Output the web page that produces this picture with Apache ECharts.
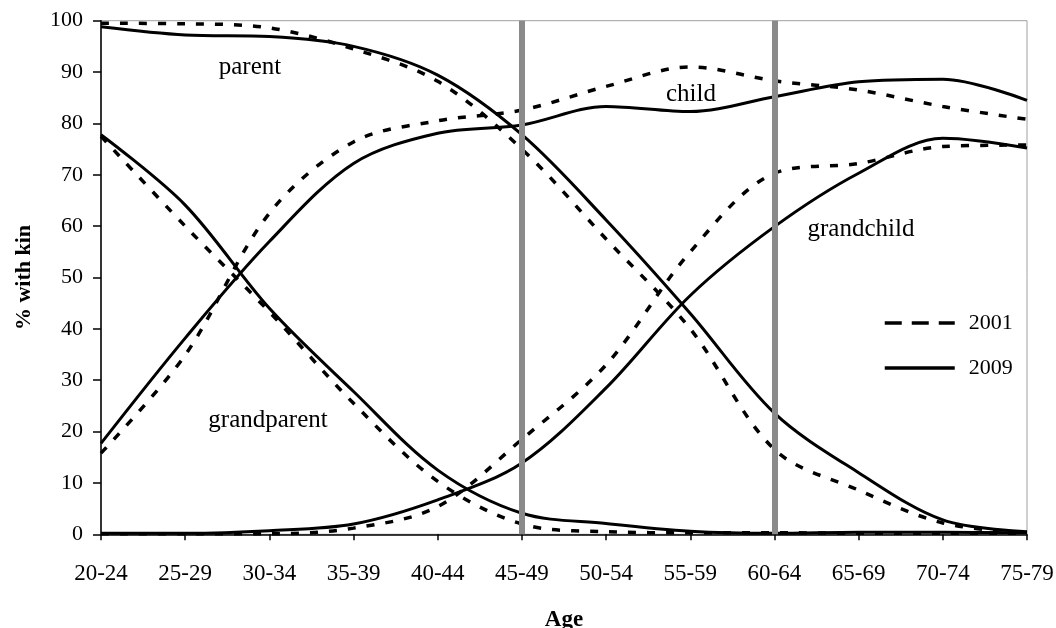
<!DOCTYPE html>
<html>
<head>
<meta charset="utf-8">
<script src="https://cdn.jsdelivr.net/npm/echarts@6/dist/echarts.min.js"></script>
<style>
html,body{margin:0;padding:0;background:#fff;}
#chart{width:1056px;height:628px;}
</style>
</head>
<body>
<div id="chart"></div>
<script>
const categories = ['20-24','25-29','30-34','35-39','40-44','45-49','50-54','55-59','60-64','65-69','70-74','75-79'];
const yTicks = [0,10,20,30,40,50,60,70,80,90,100];
const parent2001 = [99.5, 99.4, 98.6, 94.5, 88.2, 75.0, 57.5, 40.0, 16.5, 8.6, 2.2, 0.3];
const parent2009 = [98.8, 97.2, 96.9, 95.0, 89.4, 77.8, 61.2, 43.0, 23.6, 12.0, 2.8, 0.5];
const grandparent2001 = [77.5, 60.0, 43.3, 25.5, 10.3, 2.0, 0.5, 0.3, 0.3, 0.2, 0.2, 0.2];
const grandparent2009 = [77.8, 64.1, 44.0, 27.8, 12.5, 4.1, 2.1, 0.6, 0.2, 0.4, 0.4, 0.3];
const child2001 = [15.8, 34.9, 62.5, 76.4, 80.5, 82.6, 87.2, 91.0, 88.3, 86.5, 83.3, 80.8];
const child2009 = [17.7, 38.2, 57.0, 72.2, 78.1, 79.7, 83.3, 82.3, 85.2, 88.1, 88.6, 84.5];
const grandchild2001 = [0.1, 0.1, 0.1, 1.2, 5.4, 18.5, 33.0, 55.0, 70.3, 72.2, 75.5, 75.8];
const grandchild2009 = [0.2, 0.2, 0.7, 2.0, 6.7, 13.9, 28.5, 46.5, 59.9, 70.3, 77.1, 75.2];
const markedAges = ['45-49','60-64'];
const kinLabels = ['parent','child','grandchild','grandparent'];
const legendNames = ['2001','2009'];

const FONT = '"Liberation Serif","Times New Roman",serif';
const dash2001 = {color:'#000', width:3.5, type:[8,11]};
const solid2009 = {color:'#000', width:3};

function mk(name, data, ls){
  return {type:'line', name:name, data:data, smooth:0.33, symbol:'none', showSymbol:false,
          lineStyle:ls, itemStyle:{color:'#000'}, z:3, silent:true};
}
function label(text, x, y){
  return {type:'text', x:x, y:y, silent:true,
          style:{text:text, fill:'#000', font:'25px '+FONT, align:'center', verticalAlign:'middle'}};
}

const chart = echarts.init(document.getElementById('chart'), null, {renderer:'canvas'});
chart.setOption({
  animation:false,
  backgroundColor:'#fff',
  grid:{left:101, right:29, top:20.7, bottom:93.7, show:true, borderColor:'#a0a0a0', borderWidth:1,
        containLabel:false, outerBoundsMode:'none'},
  xAxis:{
    type:'category', data:categories, boundaryGap:false,
    axisLine:{lineStyle:{color:'#000', width:1.5}},
    axisTick:{show:true, inside:false, length:6, lineStyle:{color:'#000', width:1.5}},
    axisLabel:{color:'#000', fontFamily:FONT, fontSize:23, margin:28},
    splitLine:{show:false},
    name:'Age', nameLocation:'middle', nameGap:74,
    nameTextStyle:{color:'#000', fontFamily:FONT, fontSize:23, fontWeight:'bold'}
  },
  yAxis:{
    type:'value', min:yTicks[0], max:yTicks[yTicks.length-1], interval:10,
    axisLine:{show:true, lineStyle:{color:'#000', width:1.5}},
    axisTick:{show:true, length:8, lineStyle:{color:'#000', width:1.5}},
    axisLabel:{color:'#000', fontFamily:FONT, fontSize:22, margin:18},
    splitLine:{show:false},
    name:'% with kin', nameLocation:'middle', nameGap:66, nameRotate:90,
    nameTextStyle:{color:'#000', fontFamily:FONT, fontSize:22, fontWeight:'bold'}
  },
  legend:{
    orient:'vertical', left:883, top:312, padding:0, itemWidth:70, itemHeight:20, itemGap:23,
    textStyle:{color:'#000', fontFamily:FONT, fontSize:22, padding:[0,0,0,9]},
    data:[
      {name:legendNames[0], itemStyle:{opacity:0}, lineStyle:{color:'#000', width:3.5, type:[17,10]}},
      {name:legendNames[1], itemStyle:{opacity:0}, lineStyle:{color:'#000', width:3.5, type:'solid'}}
    ]
  },
  series:[
    mk(legendNames[0], parent2001, dash2001),
    mk(legendNames[1], parent2009, solid2009),
    mk(legendNames[0], grandparent2001, dash2001),
    mk(legendNames[1], grandparent2009, solid2009),
    mk(legendNames[0], child2001, dash2001),
    mk(legendNames[1], child2009, solid2009),
    mk(legendNames[0], grandchild2001, dash2001),
    mk(legendNames[1], grandchild2009, solid2009),
    {type:'line', name:'marks', data:[], z:5, silent:true,
     markLine:{symbol:['none','none'], silent:true, label:{show:false},
       lineStyle:{color:'#8a8a8a', width:6, type:'solid'},
       data:markedAges.map(a=>({xAxis:a}))}}
  ],
  graphic:[
    label(kinLabels[0], 250, 67),
    label(kinLabels[1], 691, 94),
    label(kinLabels[2], 861, 229),
    label(kinLabels[3], 268, 420)
  ]
});
</script>
</body>
</html>
